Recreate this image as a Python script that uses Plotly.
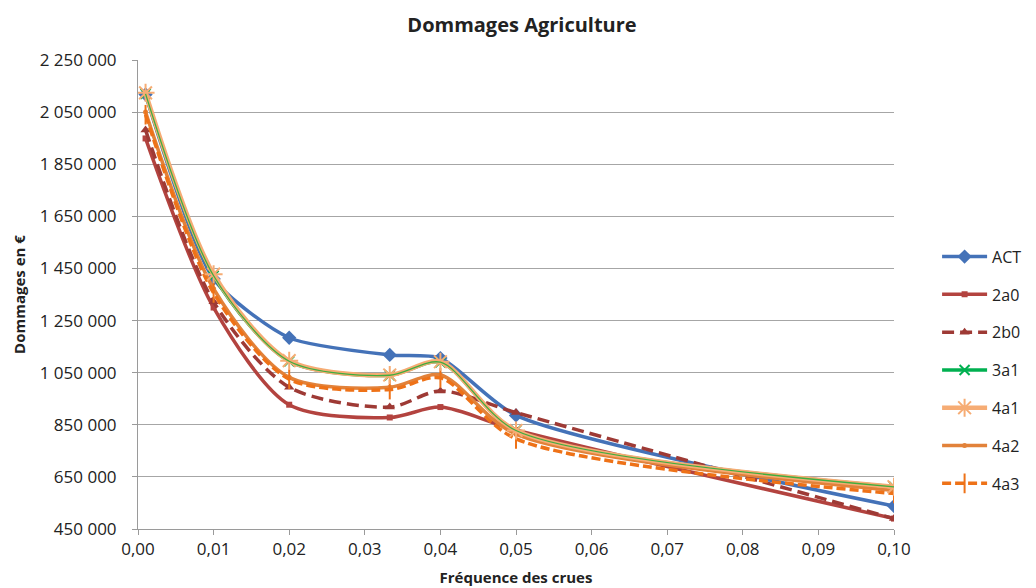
import plotly.graph_objects as go

# frequences des crues (1/T)
freq = [0.001, 0.01, 0.02, 0.0333, 0.04, 0.05, 0.1]

act = [2118000, 1410000, 1184000, 1118000, 1106000, 886000, 538000]
s_2a0 = [1949000, 1300000, 927000, 878000, 918000, 830000, 490000]
s_2b0 = [1981000, 1322000, 994000, 918000, 980000, 897000, 490000]
s_3a1 = [2120000, 1422000, 1094000, 1040000, 1090000, 828000, 612000]
s_4a1 = [2124000, 1428000, 1096000, 1041000, 1092000, 828000, 612000]
s_4a2 = [2050000, 1372000, 1032000, 994000, 1041000, 814000, 598000]
s_4a3 = [2040000, 1356000, 1025000, 985000, 1030000, 796000, 586000]

FONT = "Open Sans"
TXT = "#222222"
SMOOTH = 0.8

# la page html ajoute 8px de marge au body -> figure un peu plus petite
W, H = 1028, 580


def add_serie(fig, name, y, color, symbol, msize, dash="solid", width=3.5,
              mline=None, show=True, rank=1, smooth=SMOOTH):
    marker = dict(symbol=symbol, size=msize, color=color)
    if mline:
        marker["line"] = dict(color=color, width=mline)
    fig.add_trace(go.Scatter(
        x=freq, y=y, name=name, mode="lines+markers",
        line=dict(color=color, width=width, dash=dash, shape="spline", smoothing=smooth),
        marker=marker, showlegend=show, legendgroup=name, legendrank=rank,
    ))


fig = go.Figure()

add_serie(fig, "ACT", act, "#4472B8", "diamond", 11, rank=1, smooth=0.65)
add_serie(fig, "2a0", s_2a0, "#B3433F", "square", 6, rank=2)
add_serie(fig, "2b0", s_2b0, "#9E3A35", "triangle-up", 9, dash="12px,6px", rank=3)
add_serie(fig, "3a1", s_3a1, "#00B050", "x-thin", 10, mline=2, rank=4)
add_serie(fig, "4a2", s_4a2, "#E2823A", "circle", 5, rank=6)
add_serie(fig, "4a3", s_4a3, "#EE7218", "line-ns", 14, dash="9px,4px", mline=2, rank=7)
add_serie(fig, "4a1", s_4a1, "#F6AC74", "asterisk", 15, width=4.5, mline=2, rank=5)
# fine ligne verte visible au centre de 4a1
fig.add_trace(go.Scatter(
    x=freq, y=s_3a1, mode="lines", showlegend=False, hoverinfo="skip",
    line=dict(color="#3FAE3F", width=1.3, shape="spline", smoothing=SMOOTH),
))

fig.update_layout(
    width=W, height=H,
    paper_bgcolor="white", plot_bgcolor="white",
    separators=", ",
    margin=dict(l=130, r=142, t=52, b=59, autoexpand=False),
    font=dict(family=FONT, size=16, color=TXT),
    title=dict(text="<b>Dommages Agriculture</b>", x=0.5, xanchor="center",
               y=1 - 17 / H, yanchor="middle", font=dict(size=20, color=TXT)),
    legend=dict(x=1.057, xanchor="left", y=0.617, yanchor="top",
                traceorder="grouped", tracegroupgap=14, itemwidth=45,
                font=dict(size=16, color=TXT), bgcolor="rgba(0,0,0,0)"),
    showlegend=True,
)

fig.update_xaxes(
    range=[0, 0.1], tick0=0, dtick=0.01, tickformat=".2f",
    showgrid=False, zeroline=False, automargin=False,
    showline=True, linecolor="#9A9A9A", linewidth=1,
    ticks="outside", ticklen=5, tickcolor="#9A9A9A",
    tickfont=dict(size=17),
    title=dict(text="<b>Fréquence des crues</b>", font=dict(size=15), standoff=13),
)
fig.update_yaxes(
    range=[450000, 2250000], tick0=450000, dtick=200000, tickformat=",d",
    showgrid=True, gridcolor="#A6A6A6", gridwidth=1, zeroline=False, automargin=False,
    showline=True, linecolor="#9A9A9A", linewidth=1,
    ticks="outside", ticklen=5, tickcolor="#9A9A9A",
    tickfont=dict(size=17), ticklabelstandoff=12,
    title=dict(text="<b>Dommages en €</b>", font=dict(size=15), standoff=10),
)

fig.write_html("out.html")
